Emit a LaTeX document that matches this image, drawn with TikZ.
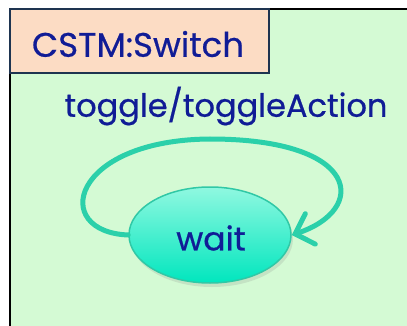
\documentclass[tikz,border=0pt]{standalone}
\usepackage{fontspec}
\setmainfont{Poppins}[FakeBold=0.6]
\usetikzlibrary{arrows.meta,shadows,shapes.geometric}
\definecolor{pageBg}{HTML}{FFFFFF}
\definecolor{regionFill}{HTML}{D4FAD4}
\definecolor{headFill}{HTML}{FCDCC4}
\definecolor{headEdge}{HTML}{1E3450}
\definecolor{inkBlue}{HTML}{101C96}
\definecolor{loopTeal}{HTML}{2BD0AA}
\definecolor{stateTop}{HTML}{90F8E0}
\definecolor{stateBottom}{HTML}{00E6BE}
\definecolor{stateEdge}{HTML}{30C8A6}
\tikzset{
  region/.style={fill=regionFill, draw=black, line width=2pt},
  header/.style={fill=headFill, draw=headEdge, line width=2pt},
  label/.style={text=inkBlue, inner sep=0pt},
  state/.style={ellipse, minimum width=162pt, minimum height=96pt, inner sep=0pt,
    top color=stateTop, bottom color=stateBottom, draw=stateEdge, line width=1.5pt,
    drop shadow={opacity=0.18, shadow xshift=2pt, shadow yshift=-4pt}},
  selfloop/.style={draw=loopTeal, line width=5pt, line cap=round,
    -{Straight Barb[length=16pt, width=32pt, line cap=round]}},
}
\begin{document}
\begin{tikzpicture}[x=1pt, y=-1pt]
  \useasboundingbox (0,0) rectangle (407,326);
  \fill[pageBg] (0,0) rectangle (407,326);
  % state machine region and its name tab
  \draw[region] (10,9) rectangle (420,340);
  \draw[header] (10,9) rectangle (269,73);
  \node[label, font=\fontsize{34}{38}\selectfont] (title) at (138,44) {CSTM:Switch};
  % the single state
  \node[state] (wait) at (210,235) {};
  \node[label, font=\fontsize{33}{36}\selectfont] (waittext) at (211,238) {wait};
  % transition label
  \node[label, font=\fontsize{32}{36}\selectfont] (trig) at (226,106) {toggle/toggleAction};
  % self transition over the top of the state
  \coordinate (looptop) at (210,139);
  \draw[selfloop] (wait.west) .. controls (50,232) and (70,140) .. (looptop)
    .. controls (362,139) and (368,210) .. (wait.east);
\end{tikzpicture}
\end{document}
